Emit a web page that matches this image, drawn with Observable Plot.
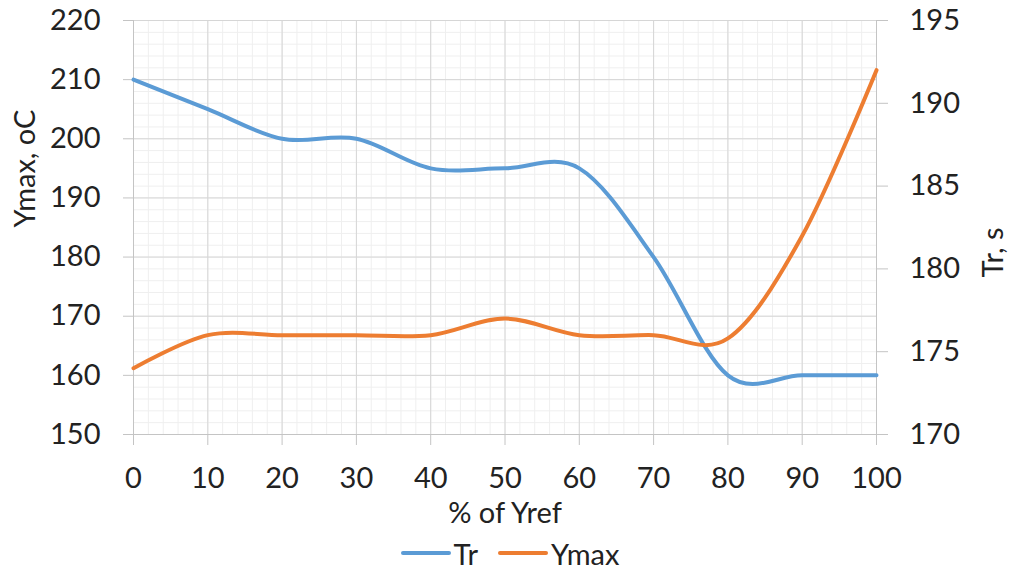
<!DOCTYPE html>
<html>
<head>
<meta charset="utf-8">
<script src="https://cdn.jsdelivr.net/npm/d3@7"></script>
<script src="https://cdn.jsdelivr.net/npm/@observablehq/plot@0.6"></script>
<style>
  html, body { margin: 0; padding: 0; background: #fff; }
  #chart { width: 1013px; height: 570px; font-family: Lato, sans-serif; color: #222; }
  #legend { height: 34px; display: flex; justify-content: center; align-items: center; font-size: 29px; padding-left: 7px; box-sizing: border-box; }
  .sw { display: inline-block; width: 50px; height: 4px; border-radius: 2px; margin-right: 3px; }
  .item { display: flex; align-items: center; margin: 0 10px; }
</style>
</head>
<body>
<div id="chart"></div>
<script>
// X categories (% of Yref)
const xVals = [0, 10, 20, 30, 40, 50, 60, 70, 80, 90, 100];
// Tr series (plotted against left axis)
const trVals = [210, 205, 200, 200, 195, 195, 195, 180, 160, 160, 160];
// Ymax series (plotted against right axis)
const ymaxVals = [174, 176, 176, 176, 176, 177, 176, 176, 175.8, 182, 192];
// Tick labels
const xTicks = [0, 10, 20, 30, 40, 50, 60, 70, 80, 90, 100];
const leftTicks = [150, 160, 170, 180, 190, 200, 210, 220];
const rightTicks = [170, 175, 180, 185, 190, 195];
const seriesNames = ["Tr", "Ymax"];
const seriesColors = ["#5b9bd5", "#ed7d31"];

// secondary axis mapping: right [170,195] -> left [150,220]
const toLeft = r => 150 + (r - 170) * 70 / 25;
const fromLeft = l => 170 + (l - 150) * 25 / 70;

const data = xVals.map((x, i) => ({x, tr: trVals[i], ymax: ymaxVals[i]}));

const plot = Plot.plot({
  width: 1013,
  height: 536,
  marginLeft: 133,
  marginRight: 137,
  marginTop: 20,
  marginBottom: 102,
  x: {domain: [0, 100]},
  y: {domain: [150, 220]},
  style: {fontFamily: "Lato, sans-serif", fontSize: "29px", color: "#222", background: "white", overflow: "visible"},
  marks: [
    Plot.gridX(d3.range(0, 101, 2), {stroke: "#efefef", strokeOpacity: 1}),
    Plot.gridY(d3.range(150, 221, 2), {stroke: "#efefef", strokeOpacity: 1}),
    Plot.gridX(xTicks, {stroke: "#d6d6d6", strokeOpacity: 1}),
    Plot.gridY(leftTicks, {stroke: "#d6d6d6", strokeOpacity: 1}),
    Plot.ruleX([0, 100], {stroke: "#c4c4c4"}),
    Plot.ruleY([150], {stroke: "#c4c4c4"}),
    Plot.axisX(xTicks, {tickSize: 11, tickPadding: 22, stroke: "#c4c4c4", fill: "#222", label: null}),
    Plot.axisY(leftTicks, {anchor: "left", tickSize: 10, tickPadding: 23, stroke: "#c4c4c4", fill: "#222", label: null}),
    Plot.axisY(rightTicks.map(toLeft), {anchor: "right", tickSize: 11, tickPadding: 22, stroke: "#c4c4c4", fill: "#222", label: null,
      tickFormat: d => String(Math.round(fromLeft(d)))}),
    Plot.line(data, {x: "x", y: "tr", stroke: seriesColors[0], strokeWidth: 4, curve: "cardinal"}),
    Plot.line(data, {x: "x", y: d => toLeft(d.ymax), stroke: seriesColors[1], strokeWidth: 4, curve: "cardinal"}),
    Plot.text(["Ymax, oC"], {frameAnchor: "left", rotate: -90, dx: -108, fill: "#222"}),
    Plot.text(["Tr, s"], {frameAnchor: "right", rotate: -90, dx: 117, fill: "#222"}),
    Plot.text(["% of Yref"], {frameAnchor: "bottom", dy: 88, fill: "#222"})
  ]
});

const chart = document.getElementById("chart");
chart.appendChild(plot);
const legend = document.createElement("div");
legend.id = "legend";
seriesNames.forEach((name, i) => {
  const item = document.createElement("span");
  item.className = "item";
  const sw = document.createElement("span");
  sw.className = "sw";
  sw.style.background = seriesColors[i];
  item.appendChild(sw);
  item.appendChild(document.createTextNode(name));
  legend.appendChild(item);
});
chart.appendChild(legend);
</script>
</body>
</html>
